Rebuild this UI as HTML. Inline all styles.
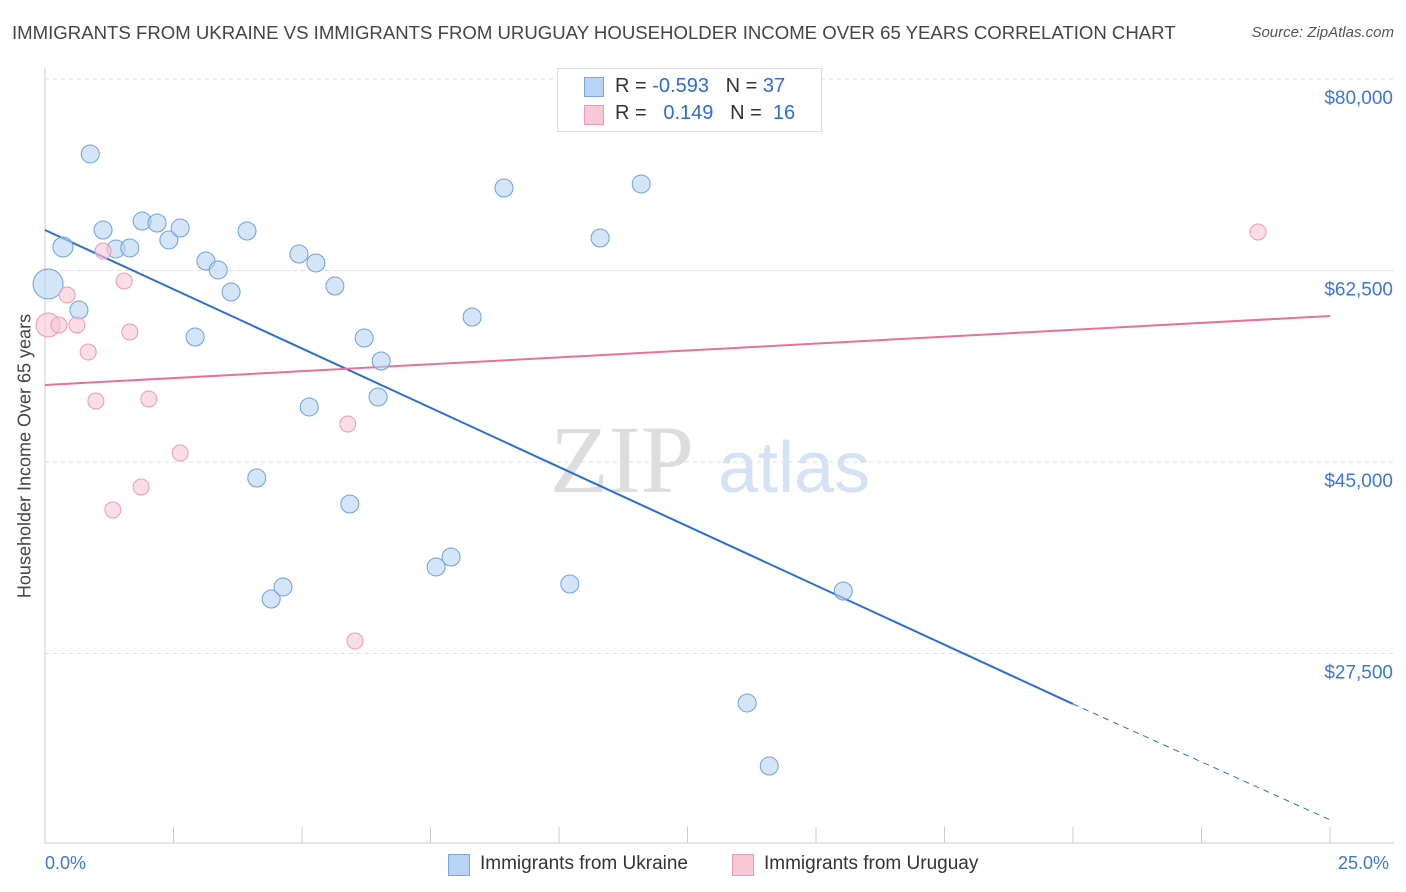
<!DOCTYPE html>
<html><head><meta charset="utf-8"><style>
body{margin:0;background:#fff;font-family:"Liberation Sans",sans-serif;}
#c{position:relative;width:1406px;height:892px;overflow:hidden;}
.t{position:absolute;white-space:nowrap;}
</style></head><body>
<div id="c">
<div class="t" style="left:12px;top:22px;font-size:18.6px;color:#444;">IMMIGRANTS FROM UKRAINE VS IMMIGRANTS FROM URUGUAY HOUSEHOLDER INCOME OVER 65 YEARS CORRELATION CHART</div>
<div class="t" style="right:12px;top:24px;font-size:15px;color:#555;font-style:italic;">Source: ZipAtlas.com</div>
<svg id="s" width="1406" height="892" style="position:absolute;left:0;top:0">
<text x="550" y="492" font-size="96" font-family="Liberation Serif" fill="#ddd">ZIP</text>
<text x="718" y="492" font-size="72" font-family="Liberation Sans" fill="#d4e2f4">atlas</text>
</svg>
<div style="position:absolute;left:557px;top:68px;width:263px;height:62px;border:1px solid #ddd;background:#fff;font-size:20px;">
<div style="position:absolute;left:26px;top:8px;width:18px;height:18px;background:#b8d3f3;border:1px solid #7aa6e0;"></div>
<div class="t" style="left:57px;top:6px;color:#333">R = <span style="color:#2a6dd6">-0.593</span>&nbsp;&nbsp;&nbsp;N = <span style="color:#2a6dd6">37</span></div>
<div style="position:absolute;left:26px;top:36px;width:18px;height:18px;background:#f9c7d6;border:1px solid #ee9ab4;"></div>
<div class="t" style="left:57px;top:33px;color:#333">R = &nbsp;&nbsp;<span style="color:#2a6dd6">0.149</span>&nbsp;&nbsp;&nbsp;N = &nbsp;<span style="color:#2a6dd6">16</span></div>
</div>
<div class="t" style="left:25px;top:456px;font-size:18px;color:#444;transform:translate(-50%,-50%) rotate(-90deg);">Householder Income Over 65 years</div>
<div class="t" style="left:45px;top:853px;font-size:18px;color:#3a78d8;">0.0%</div>
<div class="t" style="left:1338px;top:853px;font-size:18px;color:#3a78d8;">25.0%</div>
<div style="position:absolute;left:448px;top:854px;width:20px;height:20px;background:#b8d3f3;border:1px solid #7aa6e0;"></div>
<div class="t" style="left:480px;top:853px;font-size:19px;color:#333;">Immigrants from Ukraine</div>
<div style="position:absolute;left:732px;top:854px;width:20px;height:20px;background:#f9c7d6;border:1px solid #ee9ab4;"></div>
<div class="t" style="left:764px;top:853px;font-size:19px;color:#333;">Immigrants from Uruguay</div>
</div>
<script>
const yTicks=[80000,62500,45000,27500];
const yTickLabels=["$80,000","$62,500","$45,000","$27,500"];
const xTicks=[0,2.5,5,7.5,10,12.5,15,17.5,20,22.5,25];
const ukrX=[0.88,0.35,0.06,1.13,1.38,1.65,1.89,2.18,2.41,2.63,0.66,3.13,3.37,3.62,2.92,3.93,4.94,5.27,5.64,6.21,6.54,5.14,6.48,4.12,5.93,4.40,4.63,7.61,7.90,8.31,8.93,10.80,11.60,10.21,15.53,13.66,14.09];
const ukrY=[73150,64650,61270,66200,64470,64560,67020,66840,65290,66380,58890,63370,62550,60540,56420,66110,64010,63190,61080,56330,54230,50030,50940,43540,41160,32480,33580,35410,36320,58250,70040,65470,70410,33850,33210,22980,17220];
const ukrR=[9,10,15,9,9,9,9,9,9,9,9,9,9,9,9,9,9,9,9,9,9,9,9,9,9,9,9,9,9,9,9,9,9,9,9,9,9];
const uruX=[23.60,0.06,0.43,0.27,0.62,1.13,1.54,1.65,0.84,0.99,2.02,2.63,1.87,1.32,5.89,6.03];
const uruY=[66020,57520,60260,57520,57520,64280,61540,56880,55050,50580,50760,45820,42720,40620,48470,28640];
const uruR=[8,12,8,8,8,8,8,8,8,8,8,8,8,8,8,8];
const ukrTrend=[66200,22890,12300];
const uruTrend=[52040,58340];
const X=v=>45+v/25*1285, Y=v=>79+(80000-v)*191.5/17500;
const s=document.getElementById('s'),NS="http://www.w3.org/2000/svg";
function mk(t,a){const e=document.createElementNS(NS,t);for(const k in a)e.setAttribute(k,a[k]);s.appendChild(e);return e;}
yTicks.forEach((v,i)=>{
 const g=mk('line',{x1:45,x2:1394,y1:Y(v),y2:Y(v),stroke:'#ddd','stroke-dasharray':'4,4'});
 
 
 const t=mk('text',{x:1393,y:Y(v)+25,'text-anchor':'end','font-size':19,fill:'#3a78d8'});t.textContent=yTickLabels[i];
 
 
});
const ax=mk('line',{x1:45,x2:1394,y1:843,y2:843,stroke:'#ccc'});


const ay=mk('line',{x1:45,x2:45,y1:68,y2:843,stroke:'#ccc'});


xTicks.forEach(v=>{const l=mk('line',{x1:X(v),x2:X(v),y1:827,y2:843,stroke:'#ccc'});
 
 });
const tb=mk('line',{x1:X(0),y1:Y(ukrTrend[0]),x2:X(20),y2:Y(ukrTrend[1]),stroke:'#2a6dd6','stroke-width':2});


const td=mk('line',{x1:X(20),y1:Y(ukrTrend[1]),x2:X(25),y2:Y(ukrTrend[2]),stroke:'#2a6dd6','stroke-width':1,'stroke-dasharray':'6,5'});


const tp=mk('line',{x1:X(0),y1:Y(uruTrend[0]),x2:X(25),y2:Y(uruTrend[1]),stroke:'#e8719a','stroke-width':2});


ukrX.forEach((v,i)=>{const c=mk('circle',{cx:X(v),cy:Y(ukrY[i]),r:ukrR[i],fill:'rgba(184,211,243,0.6)',stroke:'#6f9fdc','stroke-width':1});
 
 });
uruX.forEach((v,i)=>{const c=mk('circle',{cx:X(v),cy:Y(uruY[i]),r:uruR[i],fill:'rgba(249,199,214,0.6)',stroke:'#ec9ab3','stroke-width':1});
 
 });
</script>
</body></html>
